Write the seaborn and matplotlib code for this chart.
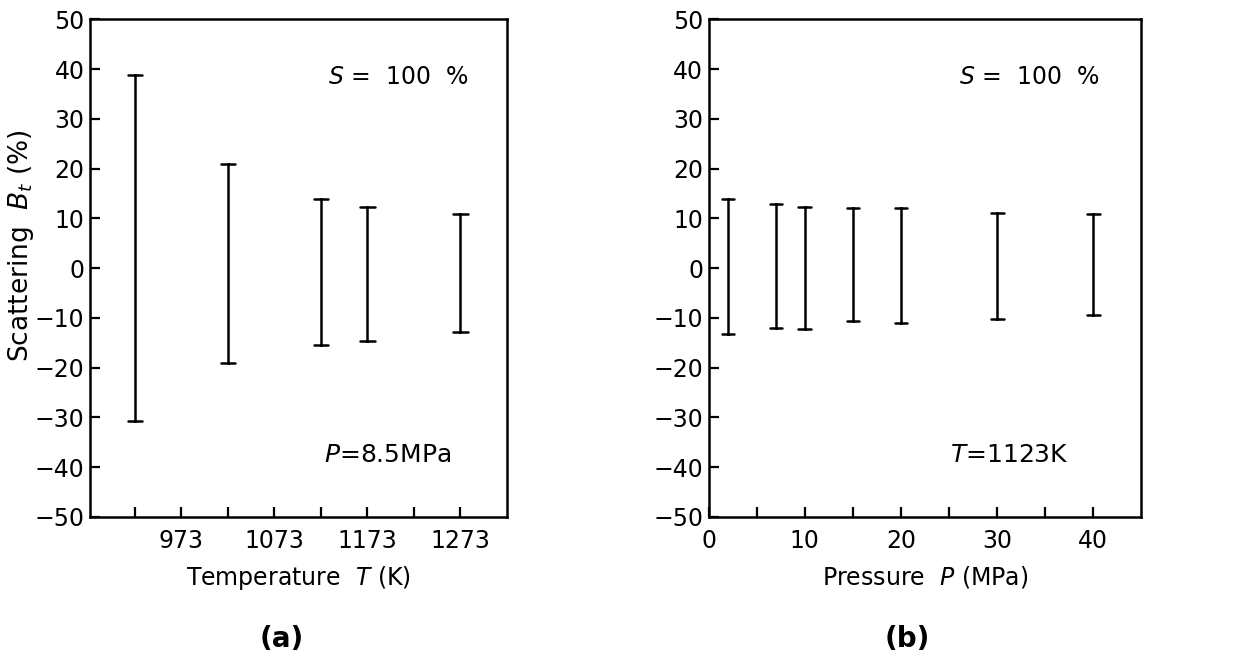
import numpy as np
import pandas as pd
import matplotlib
matplotlib.use("Agg")
import matplotlib.pyplot as plt
import seaborn as sns

# --- Data ---
# (a) scattering range vs temperature, P = 8.5 MPa
temp_K = [923, 1023, 1123, 1173, 1273]
temp_hi = [38.8, 20.9, 13.9, 12.3, 10.9]
temp_lo = [-30.7, -19.0, -15.5, -14.6, -12.8]

# (b) scattering range vs pressure, T = 1123 K
pres_MPa = [2, 7, 10, 15, 20, 30, 40]
pres_hi = [13.9, 12.9, 12.3, 12.0, 12.0, 11.0, 10.9]
pres_lo = [-13.2, -12.0, -12.3, -10.7, -11.0, -10.3, -9.4]

temp_ticks = [973, 1073, 1173, 1273]
temp_minor = [923, 1023, 1123, 1223]
pres_ticks = [0, 10, 20, 30, 40]
pres_minor = [5, 15, 25, 35]
y_ticks = list(range(-50, 51, 10))


def long_form(xs, lo, hi):
    # two rows per position so the errorbar callable returns (low, high)
    return pd.DataFrame({"x": list(xs) * 2, "val": list(lo) + list(hi)})


sns.set_theme(style="ticks")
plt.rcParams["font.family"] = ["DejaVu Sans"]
plt.rcParams["mathtext.fontset"] = "dejavusans"
plt.rcParams["text.color"] = "black"
plt.rcParams["axes.labelcolor"] = "black"

fig, axes = plt.subplots(1, 2, figsize=(12.34, 6.66), dpi=100,
                         gridspec_kw={"width_ratios": [417, 433]})
fig.subplots_adjust(left=0.073, right=0.925, bottom=0.224, top=0.971, wspace=0.475)

panels = [
    (axes[0], long_form(temp_K, temp_lo, temp_hi), 0.31, (875, 1323),
     temp_ticks, temp_minor, r"Temperature  $T$ (K)", r"$P$=8.5MPa", 0.715),
    (axes[1], long_form(pres_MPa, pres_lo, pres_hi), 0.44, (0, 45),
     pres_ticks, pres_minor, r"Pressure  $P$ (MPa)", r"$T$=1123K", 0.695),
]

for ax, df, cap, xlim, ticks, minor, xlabel, cond, cond_x in panels:
    sns.pointplot(data=df, x="x", y="val", native_scale=True,
                  errorbar=lambda v: (v.min(), v.max()), capsize=cap,
                  color="black", markers="", linestyles="none",
                  err_kws={"linewidth": 1.8}, ax=ax)
    ax.set_xlim(*xlim)
    ax.set_ylim(-50, 50)
    ax.set_yticks(y_ticks)
    ax.set_xticks(ticks)
    ax.set_xticks(minor, minor=True)
    ax.tick_params(axis="both", which="both", direction="in", length=7.5,
                   width=1.6, labelsize=17, color="black", labelcolor="black")
    ax.tick_params(axis="x", which="both", pad=9)
    ax.tick_params(axis="y", which="both", pad=4)
    for s in ax.spines.values():
        s.set_visible(True)
        s.set_linewidth(1.8)
        s.set_color("black")
    ax.set_xlabel(xlabel, fontsize=17, labelpad=8)
    ax.set_ylabel("")
    ax.text(0.74, 0.885, r"$S$ =  100  %", transform=ax.transAxes,
            fontsize=17, ha="center", va="center")
    ax.text(cond_x, 0.125, cond, transform=ax.transAxes,
            fontsize=18, ha="center", va="center")

axes[0].set_ylabel(r"Scattering  $B_t$ (%)", fontsize=19)
axes[0].yaxis.set_label_coords(-0.13, 0.545)

fig.text(0.228, 0.04, "(a)", fontsize=20, fontweight="bold", ha="center", va="center")
fig.text(0.735, 0.04, "(b)", fontsize=20, fontweight="bold", ha="center", va="center")

fig.savefig("out.png", dpi=100, facecolor="white")
